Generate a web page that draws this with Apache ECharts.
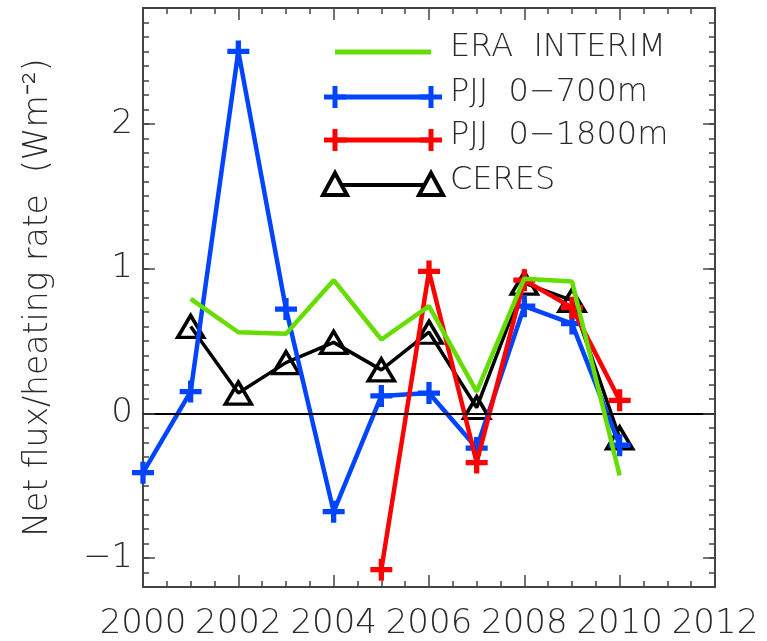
<!DOCTYPE html>
<html>
<head>
<meta charset="utf-8">
<script src="https://cdn.jsdelivr.net/npm/echarts@6/dist/echarts.min.js"></script>
<style>
html,body{margin:0;padding:0;background:#fff;}
#chart{width:767px;height:641px;}
</style>
</head>
<body>
<div id="chart"></div>
<script>
// ---- data ----
var years = [2000, 2001, 2002, 2003, 2004, 2005, 2006, 2007, 2008, 2009, 2010];
var eraInterim = [null, 0.79, 0.56, 0.55, 0.92, 0.51, 0.74, 0.15, 0.93, 0.91, -0.43];
var pjj700 = [-0.41, 0.15, 2.50, 0.72, -0.68, 0.12, 0.14, -0.24, 0.74, 0.62, -0.22];
var pjj1800 = [null, null, null, null, null, -1.08, 0.98, -0.34, 0.92, 0.73, 0.09];
var ceres = [null, 0.60, 0.14, 0.35, 0.49, 0.30, 0.56, 0.04, 0.90, 0.78, -0.17];
var xTickLabels = ['2000', '2002', '2004', '2006', '2008', '2010', '2012'];
var yMajorTicks = [-1, 0, 1, 2];
var yTickLabels = ['\u22121', '0', '1', '2'];
var legendNames = ['ERA  INTERIM', 'PJJ  0\u2212700m', 'PJJ  0\u22121800m', 'CERES'];
var yTitle = 'Net flux/heating rate  (Wm\u207B\u00B2)';

function pairs(vals) {
  var out = [];
  for (var i = 0; i < years.length; i++) {
    if (vals[i] !== null) out.push([years[i], vals[i]]);
  }
  return out;
}

var FONT = 'DejaVu Sans';
var TXT = '#2a2a2a';
var FRAME = '#444';
var crossPath = 'path://M38,0H62V38H100V62H62V100H38V62H0V38H38Z';

var chart = echarts.init(document.getElementById('chart'), null, {renderer: 'canvas'});

function xAxisBase(pos, showLabel) {
  return {
    type: 'value', position: pos, min: 2000, max: 2012, interval: 2,
    axisLine: {show: true, onZero: false, lineStyle: {color: FRAME, width: 2}},
    axisTick: {show: true, inside: true, length: 12, lineStyle: {color: FRAME, width: 1.5}},
    minorTick: {show: true, splitNumber: 4, length: 6, lineStyle: {color: FRAME, width: 1.5}},
    splitLine: {show: false},
    axisLabel: {
      show: showLabel, margin: 20, fontFamily: FONT, fontSize: 34, fontWeight: 200, color: TXT,
      formatter: function (v) { var s = String(Math.round(v)); return xTickLabels.indexOf(s) >= 0 ? s : ''; }
    }
  };
}
function yAxisBase(pos, showLabel) {
  return {
    type: 'value', position: pos, min: -1.2, max: 2.8, interval: 0.1,
    axisLine: {show: true, onZero: false, lineStyle: {color: FRAME, width: 2}},
    axisTick: {show: true, inside: true, length: 6, lineStyle: {color: FRAME, width: 1.5}},
    minorTick: {show: false},
    splitLine: {show: false},
    axisLabel: {
      show: showLabel, margin: 10, fontFamily: FONT, fontSize: 34, fontWeight: 200, color: TXT,
      formatter: function (v) {
        for (var k = 0; k < yMajorTicks.length; k++) {
          if (Math.abs(v - yMajorTicks[k]) < 1e-6) return yTickLabels[k];
        }
        return '';
      }
    }
  };
}

var yL = yAxisBase('left', true);
yL.name = yTitle;
yL.nameLocation = 'middle';
yL.nameGap = 88;
yL.nameRotate = 90;
yL.nameTextStyle = {fontFamily: FONT, fontSize: 33, fontWeight: 200, color: TXT};

// long ticks at integer y values (left and right frame)
var majorTickLines = [];
yMajorTicks.forEach(function (v) {
  majorTickLines.push([{coord: [2000, v]}, {coord: [2000.25, v]}]);
  majorTickLines.push([{coord: [2011.75, v]}, {coord: [2012, v]}]);
});

// legend graphics
var LX0 = 335, LX1 = 431, LTX = 450;
var LY = [52, 97, 140, 185];
var graphics = [];
graphics.push({type: 'line', shape: {x1: LX0, y1: LY[0], x2: LX1, y2: LY[0]}, style: {stroke: '#66dd00', lineWidth: 5}});
function crossG(x, y, color) {
  return [
    {type: 'line', shape: {x1: x - 11, y1: y, x2: x + 11, y2: y}, style: {stroke: color, lineWidth: 5}},
    {type: 'line', shape: {x1: x, y1: y - 11, x2: x, y2: y + 11}, style: {stroke: color, lineWidth: 5}}
  ];
}
[['#0044ff', LY[1]], ['#ff0000', LY[2]]].forEach(function (c) {
  graphics.push({type: 'line', shape: {x1: LX0, y1: c[1], x2: LX1, y2: c[1]}, style: {stroke: c[0], lineWidth: 5}});
  graphics = graphics.concat(crossG(LX0, c[1], c[0]), crossG(LX1, c[1], c[0]));
});
graphics.push({type: 'line', shape: {x1: LX0, y1: LY[3], x2: LX1, y2: LY[3]}, style: {stroke: '#000', lineWidth: 4}});
[LX0, LX1].forEach(function (x) {
  graphics.push({type: 'polygon', shape: {points: [[x, LY[3] - 12], [x + 12, LY[3] + 10], [x - 12, LY[3] + 10]]},
    style: {fill: '#fff', stroke: '#000', lineWidth: 4}});
});
for (var i = 0; i < 4; i++) {
  graphics.push({type: 'text', left: LTX, top: LY[i] - 20,
    style: {text: legendNames[i], font: '200 32px "' + FONT + '"', fill: TXT}});
}

var option = {
  animation: false,
  backgroundColor: '#fff',
  grid: {left: 143, right: 52, top: 8, bottom: 53, containLabel: false},
  xAxis: [xAxisBase('bottom', true), xAxisBase('top', false)],
  yAxis: [yL, yAxisBase('right', false)],
  graphic: graphics,
  series: [
    {
      name: 'CERES', type: 'line', data: pairs(ceres),
      lineStyle: {color: '#000', width: 3.5},
      symbol: 'triangle', symbolSize: [26, 22], showAllSymbol: true,
      itemStyle: {color: 'rgba(0,0,0,0)', borderColor: '#000', borderWidth: 3.5},
      markLine: {
        silent: true, symbol: 'none', label: {show: false},
        lineStyle: {color: '#000', width: 2, type: 'solid'},
        data: [{yAxis: 0}]
      },
      z: 2
    },
    {
      name: 'PJJ 0-700m', type: 'line', data: pairs(pjj700),
      lineStyle: {color: '#0044ff', width: 4.5},
      symbol: crossPath, symbolSize: 22, showAllSymbol: true,
      itemStyle: {color: '#0044ff'}, z: 3,
      markLine: {
        silent: true, symbol: 'none', label: {show: false},
        lineStyle: {color: FRAME, width: 1.5, type: 'solid'},
        data: majorTickLines
      }
    },
    {
      name: 'PJJ 0-1800m', type: 'line', data: pairs(pjj1800),
      lineStyle: {color: '#ff0000', width: 4.5},
      symbol: crossPath, symbolSize: 22, showAllSymbol: true,
      itemStyle: {color: '#ff0000'}, z: 4
    },
    {
      name: 'ERA INTERIM', type: 'line', data: pairs(eraInterim),
      lineStyle: {color: '#66dd00', width: 4.5},
      symbol: 'none', z: 5
    }
  ]
};
chart.setOption(option);
</script>
</body>
</html>
